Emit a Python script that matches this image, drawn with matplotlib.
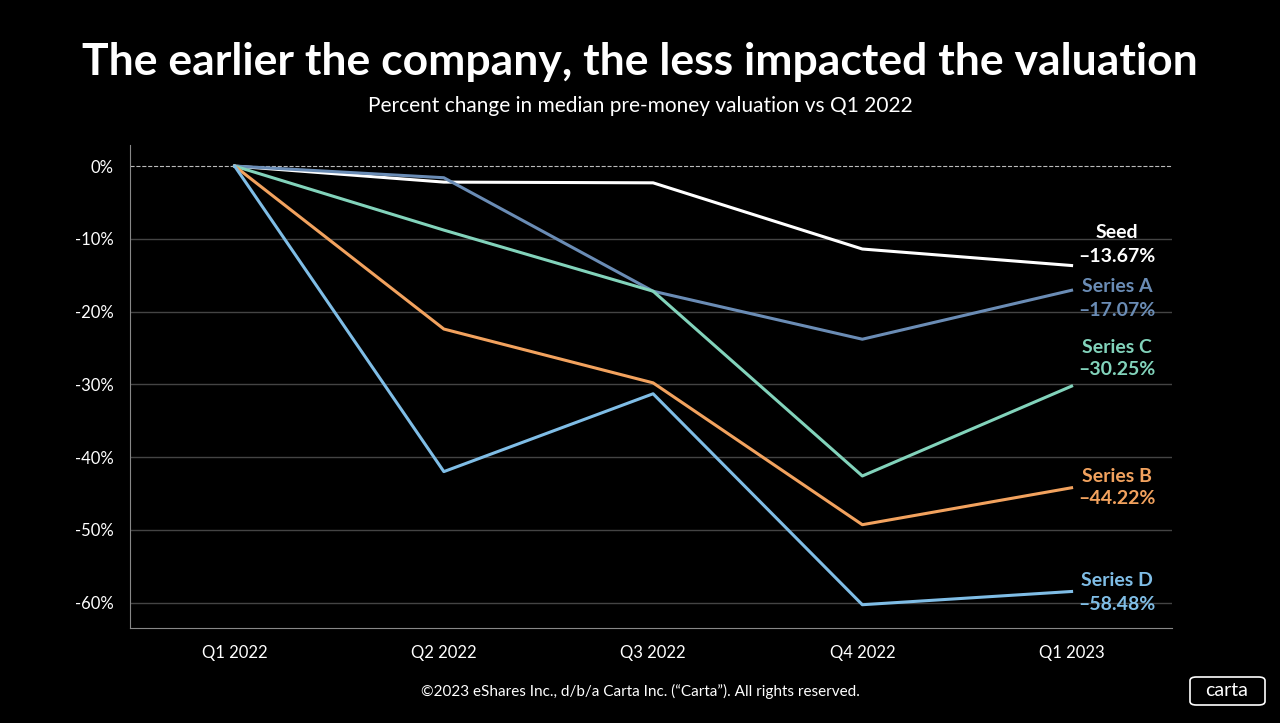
import matplotlib
matplotlib.use("Agg")
import matplotlib.pyplot as plt
from matplotlib.patches import FancyBboxPatch

quarters = ["Q1 2022", "Q2 2022", "Q3 2022", "Q4 2022", "Q1 2023"]
seed = [0, -2.2, -2.3, -11.4, -13.67]
series_a = [0, -1.6, -17.2, -23.8, -17.07]
series_c = [0, -8.8, -17.2, -42.6, -30.25]
series_b = [0, -22.4, -29.8, -49.3, -44.22]
series_d = [0, -42.0, -31.3, -60.3, -58.48]

series = [
    ("Seed", seed, "#ffffff"),
    ("Series A", series_a, "#6a8cb5"),
    ("Series C", series_c, "#82d3bb"),
    ("Series B", series_b, "#f2a25e"),
    ("Series D", series_d, "#7fbde6"),
]
# label centre heights (pixels from top) for name / value
label_px = [(233, 256), (287, 311), (347, 370), (476, 499), (580, 604)]

plt.rcParams["font.family"] = ["Lato", "DejaVu Sans"]
fig = plt.figure(figsize=(12.8, 7.23), dpi=100, facecolor="black")
ax = fig.add_axes([130 / 1280, 1 - 628 / 723, 1042 / 1280, 483 / 723])
ax.set_facecolor("black")

x = list(range(len(quarters)))
for (name, vals, col), (py1, py2) in zip(series, label_px):
    ax.plot(x, vals, color=col, lw=2.2, zorder=3)
    fig.text(1117 / 1280, 1 - py1 / 723, name, color=col, fontsize=14, fontweight="bold",
             ha="center", va="center")
    fig.text(1117 / 1280, 1 - py2 / 723, "{:.2f}%".format(vals[-1]).replace("-", "\u2013"),
             color=col, fontsize=14, fontweight="bold", ha="center", va="center")

ax.set_xlim(-0.5, 4.48)
ax.set_ylim(-63.5, 2.9)
ax.set_yticks([0, -10, -20, -30, -40, -50, -60])
ax.set_yticklabels(["0%", "-10%", "-20%", "-30%", "-40%", "-50%", "-60%"])
ax.set_xticks(x)
ax.set_xticklabels(quarters)
ax.tick_params(colors="white", labelsize=12, length=0, pad=12)
for t in [-10, -20, -30, -40, -50, -60]:
    ax.axhline(t, color="#444444", lw=1, zorder=1)
ax.axhline(0, color="#bbbbbb", lw=0.8, ls="--", zorder=1)
for s in ["top", "right"]:
    ax.spines[s].set_visible(False)
for s in ["left", "bottom"]:
    ax.spines[s].set_color("#888888")

fig.text(0.5, 1 - 62 / 723, "The earlier the company, the less impacted the valuation",
         color="white", fontsize=32, fontweight="bold", ha="center", va="center")
fig.text(0.5, 1 - 106 / 723, "Percent change in median pre-money valuation vs Q1 2022",
         color="white", fontsize=15, ha="center", va="center")
fig.text(0.5, 1 - 691 / 723,
         "\u00a92023 eShares Inc., d/b/a Carta Inc. (\u201cCarta\u201d). All rights reserved.",
         color="white", fontsize=11, ha="center", va="center")
box = FancyBboxPatch((1190 / 1280, 1 - 705 / 723), 75 / 1280, 28 / 723,
                     boxstyle="round,pad=0,rounding_size=0.005", transform=fig.transFigure,
                     fill=False, edgecolor="white", lw=1.2)
fig.patches.append(box)
fig.text(1227 / 1280, 1 - 691 / 723, "carta", color="white", fontsize=14,
         ha="center", va="center")

plt.savefig("out.png", dpi=100, facecolor="black")
